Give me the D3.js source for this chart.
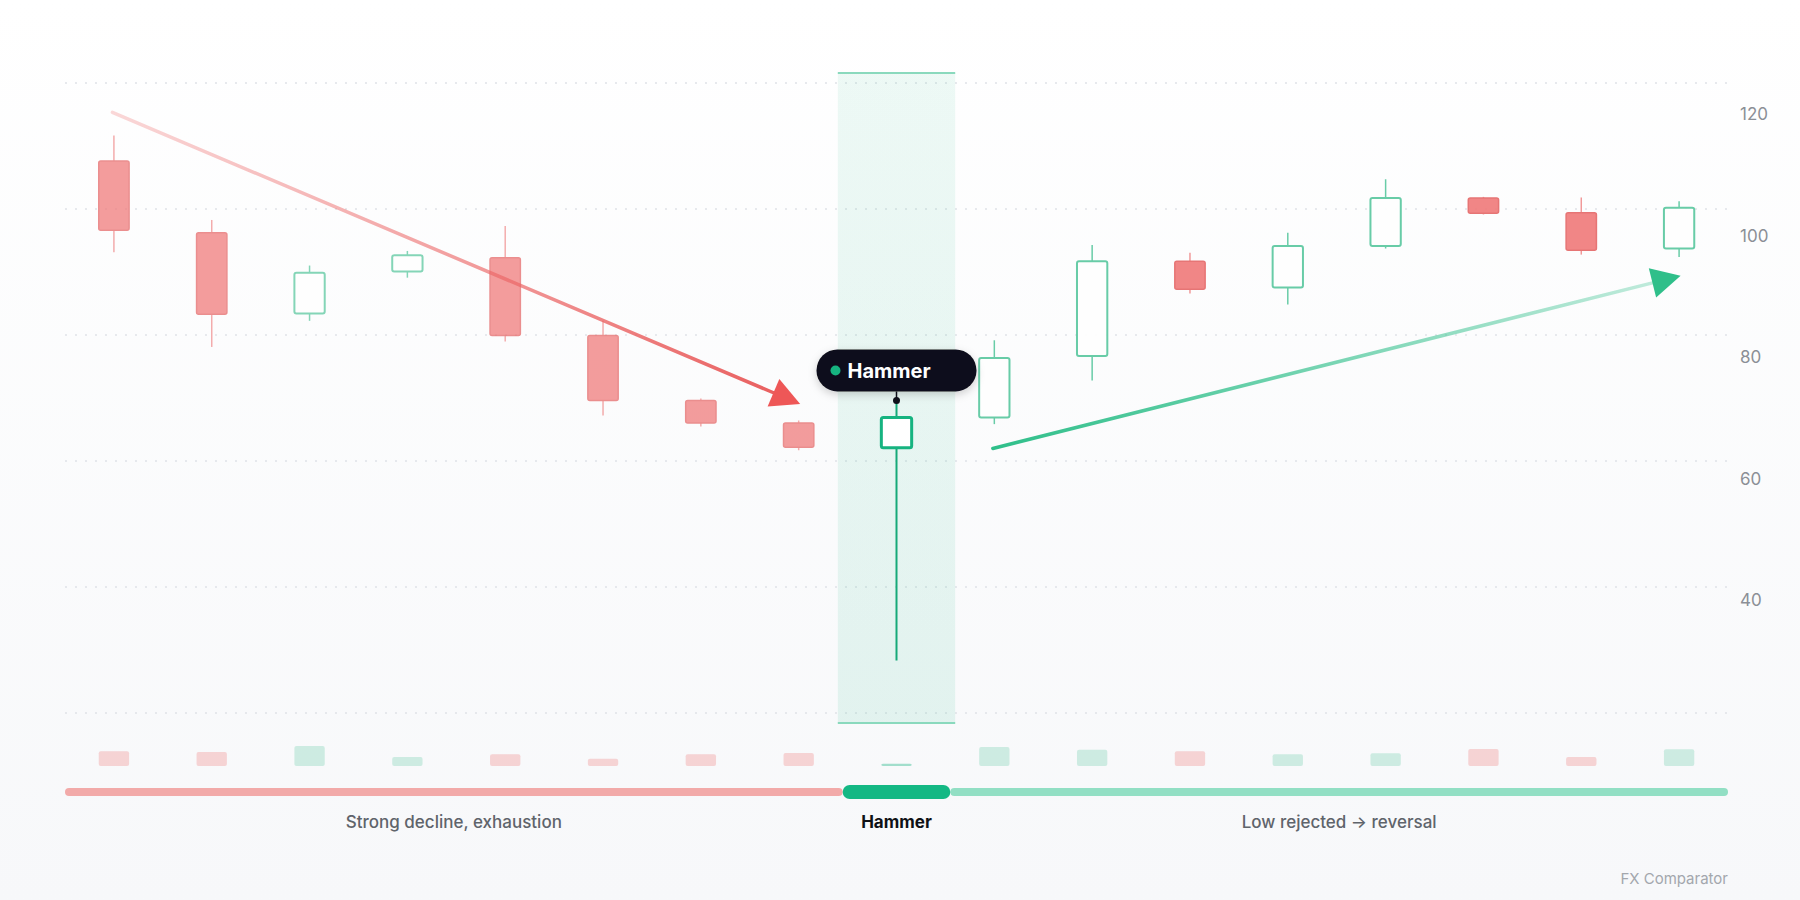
<!DOCTYPE html>
<meta charset="utf-8">
<head>
    <style>
        body, html {
            margin: 0;
            width: 100%;
            height: 100%;
            font-family: Inter, "Noto Sans", sans-serif;
        }
        svg { display: block; }
        .ylabel { font-size: 17px; fill: #8b8f96; }
        .phase-label { font-size: 17px; fill: #5f646b; font-weight: 500; text-anchor: middle; }
        .phase-label.active { fill: #0f1115; font-weight: 700; }
    </style>
    <script src="https://cdn.jsdelivr.net/npm/d3@7"></script>
</head>
<body>
<svg id="chart"></svg>

<script>
    // candle data, one entry per session
    var opens  = [112.3, 100.5, 87.2, 94.1, 96.4, 83.6, 72.9, 69.2, 65.1, 70.1, 80.2, 95.8, 91.5, 98.3, 106.2, 103.8, 97.9];
    var highs  = [116.5, 102.6, 95.1, 97.5, 101.6, 86.0, 73.2, 69.6, 72.9, 82.8, 98.5, 97.2, 100.5, 109.3, 106.4, 106.3, 105.7];
    var lows   = [97.3, 81.7, 86.0, 93.1, 82.6, 70.4, 68.6, 64.7, 30.1, 69.0, 76.2, 90.5, 88.7, 97.9, 103.5, 96.9, 96.5];
    var closes = [100.9, 87.1, 93.9, 96.8, 83.6, 72.9, 69.2, 65.2, 70.1, 79.9, 95.8, 91.2, 98.3, 106.2, 103.7, 97.6, 104.6];
    var volumes = [44, 42, 60, 27, 35, 22, 35, 39, 7, 57, 49, 44, 35, 38, 51, 27, 50];

    var yTicks = [40, 60, 80, 100, 120];
    var patternIndex = 8;
    var patternName = "Hammer";
    var phaseLabels = ["Strong decline, exhaustion", "Hammer", "Low rejected \u2192 reversal"];

    // trend arrows: [candle index, price] start -> end
    var downTrend = [[0, 120.3], [7, 72.3]];
    var upTrend = [[9, 65.0], [16, 93.4]];

    var W = 1800, H = 900;
    var plotL = 65, plotR = 1728, plotT = 83, plotB = 713;

    var svg = d3.select("#chart").attr("width", W).attr("height", H);
    var defs = svg.append("defs");

    var bgGrad = defs.append("linearGradient").attr("id", "bg")
        .attr("x1", 0).attr("y1", 0).attr("x2", 0).attr("y2", 1);
    bgGrad.append("stop").attr("offset", 0).attr("stop-color", "#ffffff");
    bgGrad.append("stop").attr("offset", 1).attr("stop-color", "#f7f8fa");
    svg.append("rect").attr("width", W).attr("height", H).attr("fill", "url(#bg)");

    var lo = d3.min(lows), hi = d3.max(highs);
    var pad = (hi - lo) * 0.1;
    var y = d3.scaleLinear().domain([lo - pad, hi + pad]).range([plotB, plotT]);
    var x = d3.scaleBand().domain(d3.range(opens.length)).range([plotL, plotR]).padding(0);
    var bw = x.bandwidth();
    var bodyW = bw * 0.31;
    function cx(i) { return x(i) + bw / 2; }

    // grid
    svg.append("g").selectAll("line")
        .data(d3.range(6))
        .enter().append("line")
        .attr("x1", plotL).attr("x2", plotR)
        .attr("y1", function(d) { return plotT + d * (plotB - plotT) / 5; })
        .attr("y2", function(d) { return plotT + d * (plotB - plotT) / 5; })
        .attr("stroke", "#dfe2e7")
        .attr("stroke-width", 1.5)
        .attr("stroke-dasharray", "2 8");

    // y labels
    svg.append("g").selectAll("text")
        .data(yTicks)
        .enter().append("text")
        .attr("class", "ylabel")
        .attr("x", 1740)
        .attr("y", function(d) { return y(d); })
        .attr("dy", "0.35em")
        .text(function(d) { return d; });

    // highlight band behind the pattern candle
    var hlGrad = defs.append("linearGradient").attr("id", "hl")
        .attr("x1", 0).attr("y1", 0).attr("x2", 0).attr("y2", 1);
    hlGrad.append("stop").attr("offset", 0).attr("stop-color", "#16b380").attr("stop-opacity", 0.075);
    hlGrad.append("stop").attr("offset", 1).attr("stop-color", "#16b380").attr("stop-opacity", 0.1);
    var hlW = bw * 1.2;
    var hl = svg.append("g");
    hl.append("rect")
        .attr("x", cx(patternIndex) - hlW / 2).attr("y", plotT - 10)
        .attr("width", hlW).attr("height", plotB - plotT + 20)
        .attr("fill", "url(#hl)");
    [plotT - 10, plotB + 10].forEach(function(yy) {
        hl.append("line")
            .attr("x1", cx(patternIndex) - hlW / 2).attr("x2", cx(patternIndex) + hlW / 2)
            .attr("y1", yy).attr("y2", yy)
            .attr("stroke", "#8ad9bd").attr("stroke-width", 2);
    });

    // candles
    var candles = svg.append("g").selectAll("g")
        .data(opens.map(function(o, i) {
            return { i: i, o: o, h: highs[i], l: lows[i], c: closes[i], v: volumes[i] };
        }))
        .enter().append("g")
        .attr("opacity", function(d) { return d.i < patternIndex ? 0.75 : (d.i > patternIndex ? 0.92 : 1); });

    function isUp(d) { return d.c >= d.o; }
    function wickColor(d) {
        if (d.i === patternIndex) return "#16a979";
        return isUp(d) ? "#5cc8a0" : "#f09191";
    }

    candles.append("line")
        .attr("x1", function(d) { return cx(d.i); })
        .attr("x2", function(d) { return cx(d.i); })
        .attr("y1", function(d) { return y(d.h); })
        .attr("y2", function(d) { return y(d.l); })
        .attr("stroke", wickColor)
        .attr("stroke-width", function(d) { return d.i === patternIndex ? 2 : 1.5; });

    candles.append("rect")
        .attr("x", function(d) { return cx(d.i) - bodyW / 2; })
        .attr("y", function(d) { return y(Math.max(d.o, d.c)); })
        .attr("width", bodyW)
        .attr("height", function(d) { return Math.max(1, y(Math.min(d.o, d.c)) - y(Math.max(d.o, d.c))); })
        .attr("rx", 2)
        .attr("fill", function(d) { return isUp(d) ? "#ffffff" : "#f07c7c"; })
        .attr("stroke", function(d) {
            if (d.i === patternIndex) return "#16b380";
            return isUp(d) ? "#5cc8a0" : "#e56a6a";
        })
        .attr("stroke-width", function(d) { return d.i === patternIndex ? 3 : (isUp(d) ? 2 : 1.5); });

    // volume bars
    var vol = d3.scaleLinear().domain([0, d3.max(volumes)]).range([0, 20]);
    var volBase = 766;
    svg.append("g").selectAll("rect")
        .data(volumes)
        .enter().append("rect")
        .attr("x", function(d, i) { return cx(i) - bodyW / 2; })
        .attr("y", function(d) { return volBase - vol(d); })
        .attr("width", bodyW)
        .attr("height", function(d) { return vol(d); })
        .attr("rx", 2)
        .attr("fill", function(d, i) {
            if (i === patternIndex) return "rgba(22,179,128,0.38)";
            return closes[i] >= opens[i] ? "rgba(92,200,160,0.28)" : "rgba(240,124,124,0.3)";
        });

    // trend arrows
    function arrow(pts, id, c0, a0, c1, a1, head) {
        var x1 = cx(pts[0][0]) - 1.5, y1 = y(pts[0][1]);
        var x2 = cx(pts[1][0]) + 1.5, y2 = y(pts[1][1]);
        var ang = Math.atan2(y2 - y1, x2 - x1);
        var len = 29, hw = 15;
        var bx = x2 - len * Math.cos(ang), by = y2 - len * Math.sin(ang);
        var g = defs.append("linearGradient").attr("id", id)
            .attr("gradientUnits", "userSpaceOnUse")
            .attr("x1", x1).attr("y1", y1).attr("x2", bx).attr("y2", by);
        g.append("stop").attr("offset", 0).attr("stop-color", c0).attr("stop-opacity", a0);
        g.append("stop").attr("offset", 1).attr("stop-color", c1).attr("stop-opacity", a1);
        svg.append("line")
            .attr("x1", x1).attr("y1", y1).attr("x2", bx).attr("y2", by)
            .attr("stroke", "url(#" + id + ")")
            .attr("stroke-width", 3.5)
            .attr("stroke-linecap", "round");
        var px = -Math.sin(ang), py = Math.cos(ang);
        svg.append("path")
            .attr("d", d3.line()([[x2, y2], [bx + px * hw, by + py * hw], [bx - px * hw, by - py * hw]]) + "Z")
            .attr("fill", head);
    }
    arrow(downTrend, "downGrad", "#f07c7c", 0.3, "#e85858", 0.95, "#ee5757");
    arrow(upTrend, "upGrad", "#2fbf8a", 1, "#2fbf8a", 0.3, "#2fbf8a");

    // tooltip over the pattern candle
    var shadow = defs.append("filter").attr("id", "shadow")
        .attr("x", "-20%").attr("y", "-40%").attr("width", "140%").attr("height", "180%");
    shadow.append("feDropShadow").attr("dx", 0).attr("dy", 3).attr("stdDeviation", 4)
        .attr("flood-color", "#000").attr("flood-opacity", 0.18);

    var tx = cx(patternIndex), ty = y(highs[patternIndex]);
    var pillW = 160, pillH = 42, pillBottom = ty - 9;
    svg.append("line")
        .attr("x1", tx).attr("x2", tx).attr("y1", pillBottom).attr("y2", ty)
        .attr("stroke", "#0e0f1a").attr("stroke-width", 1.5);
    svg.append("circle").attr("cx", tx).attr("cy", ty).attr("r", 3.5).attr("fill", "#0e0f1a");
    var tip = svg.append("g").attr("transform", "translate(" + (tx - pillW / 2) + "," + (pillBottom - pillH) + ")");
    tip.append("rect")
        .attr("width", pillW).attr("height", pillH).attr("rx", pillH / 2)
        .attr("fill", "#0e0f1a")
        .attr("filter", "url(#shadow)");
    tip.append("circle").attr("cx", 19).attr("cy", pillH / 2).attr("r", 5).attr("fill", "#16b380");
    tip.append("text")
        .attr("x", 31).attr("y", pillH / 2).attr("dy", "0.36em")
        .attr("fill", "#ffffff")
        .style("font-size", "20px").style("font-weight", 700)
        .text(patternName);

    // phase bar
    var barY = 792;
    var pw = bw * 1.1;
    var segs = [
        { x0: plotL, x1: tx - pw / 2, h: 8, color: "#f2aaa9" },
        { x0: tx - pw / 2, x1: tx + pw / 2, h: 14, color: "#14b884" },
        { x0: tx + pw / 2, x1: plotR, h: 8, color: "#92dfc4" }
    ];
    svg.append("g").selectAll("rect")
        .data([segs[0], segs[2], segs[1]])
        .enter().append("rect")
        .attr("x", function(d) { return d.x0; })
        .attr("y", function(d) { return barY - d.h / 2; })
        .attr("width", function(d) { return d.x1 - d.x0; })
        .attr("height", function(d) { return d.h; })
        .attr("rx", function(d) { return d.h / 2; })
        .attr("fill", function(d) { return d.color; });

    svg.append("g").selectAll("text")
        .data(phaseLabels)
        .enter().append("text")
        .attr("class", function(d, i) { return "phase-label" + (i === 1 ? " active" : ""); })
        .attr("x", function(d, i) { return (segs[i].x0 + segs[i].x1) / 2; })
        .attr("y", 828)
        .text(function(d) { return d; });

    svg.append("text")
        .attr("x", plotR).attr("y", 884)
        .attr("text-anchor", "end")
        .attr("fill", "#a3a7ad")
        .style("font-size", "15px")
        .text("FX Comparator");
</script>
</body>
